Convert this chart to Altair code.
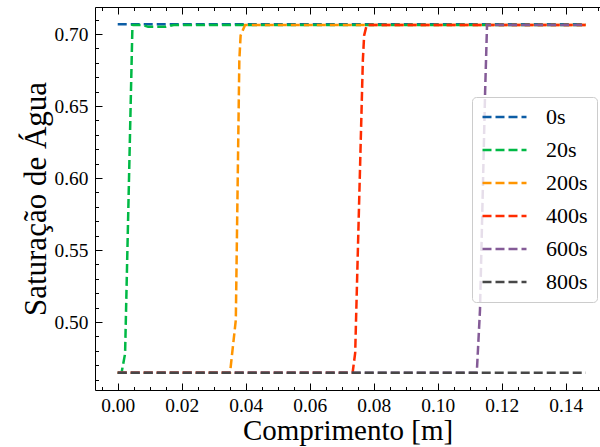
import altair as alt
import pandas as pd

series_names = ["0s", "20s", "200s", "400s", "600s", "800s"]
colors = ["#0C5DA5", "#00B945", "#FF9500", "#FF2C00", "#845B97", "#474747"]

x_0s = [0.0, 0.1463]
y_0s = [0.7067, 0.7067]
x_20s = [0.0, 0.0012, 0.0023, 0.0046, 0.0080, 0.0095, 0.0150, 0.0175, 0.1463]
y_20s = [0.4648, 0.4648, 0.4780, 0.7062, 0.7062, 0.7050, 0.7050, 0.7062, 0.7062]
x_200s = [0.0, 0.0351, 0.0369, 0.0380, 0.0384, 0.0398, 0.1463]
y_200s = [0.4648, 0.4648, 0.5014, 0.6819, 0.6990, 0.7062, 0.7062]
x_400s = [0.0, 0.0734, 0.0742, 0.0766, 0.0770, 0.0778, 0.1463]
y_400s = [0.4648, 0.4648, 0.4785, 0.6819, 0.6990, 0.7062, 0.7062]
x_600s = [0.0, 0.1122, 0.1132, 0.1148, 0.1154, 0.1463]
y_600s = [0.4648, 0.4648, 0.5083, 0.6597, 0.7062, 0.7062]
x_800s = [0.0, 0.1463]
y_800s = [0.4648, 0.4648]

xs = [x_0s, x_20s, x_200s, x_400s, x_600s, x_800s]
ys = [y_0s, y_20s, y_200s, y_400s, y_600s, y_800s]

major_x = [0.0, 0.02, 0.04, 0.06, 0.08, 0.10, 0.12, 0.14]
minor_x = [-0.005, 0.005, 0.01, 0.015, 0.025, 0.03, 0.035, 0.045, 0.05, 0.055,
           0.065, 0.07, 0.075, 0.085, 0.09, 0.095, 0.105, 0.11, 0.115,
           0.125, 0.13, 0.135, 0.145, 0.15]
major_y = [0.50, 0.55, 0.60, 0.65, 0.70]
minor_y = [0.46, 0.47, 0.48, 0.49, 0.51, 0.52, 0.53, 0.54, 0.56, 0.57, 0.58, 0.59,
           0.61, 0.62, 0.63, 0.64, 0.66, 0.67, 0.68, 0.69, 0.71]

rows = []
for name, xv, yv in zip(series_names, xs, ys):
    for i, (a, b) in enumerate(zip(xv, yv)):
        rows.append({"x": a, "y": b, "serie": name, "i": i})
df = pd.DataFrame(rows)

FONT = "Liberation Serif"
xscale = alt.Scale(domain=[-0.0071, 0.1507], nice=False, zero=False)
yscale = alt.Scale(domain=[0.4528, 0.71875], nice=False, zero=False)


def tick_axis(orient, values, size, labels=False, title=None, fmt=".2f",
              tpad=2, tsize=30, lpad=7):
    kw = dict(orient=orient, values=values, tickSize=size, offset=-size,
              domain=False, grid=False, labels=labels, tickColor="black",
              tickWidth=1, labelFlush=False, labelOverlap=False)
    if labels:
        kw.update(format=fmt, labelFont=FONT, labelFontSize=19.4,
                  labelColor="black", labelPadding=lpad)
    if title is not None:
        kw.update(title=title, titleFont=FONT, titleFontSize=tsize,
                  titleFontWeight="normal", titleColor="black", titlePadding=tpad)
    else:
        kw.update(title=None)
    return alt.Axis(**kw)


def frame_axis(orient):
    return alt.Axis(orient=orient, domain=True, domainColor="black", domainWidth=1,
                    ticks=False, labels=False, grid=False, title=None)


lines = alt.Chart(df).mark_line(strokeWidth=2.5, strokeDash=[9, 4]).encode(
    x=alt.X("x:Q", scale=xscale,
            axis=tick_axis("bottom", major_x, 7, labels=True,
                           title="Comprimento [m]", tpad=2.5, tsize=29, lpad=6)),
    y=alt.Y("y:Q", scale=yscale,
            axis=tick_axis("left", major_y, 7, labels=True,
                           title="Saturação de Água", tpad=2, tsize=31)),
    color=alt.Color("serie:N",
                    scale=alt.Scale(domain=series_names, range=colors),
                    legend=alt.Legend(orient="none", legendX=377, legendY=90, title=None,
                                      symbolType="stroke", symbolSize=1936,
                                      symbolStrokeWidth=2.5, symbolDash=[9, 4],
                                      labelFont=FONT, labelFontSize=22, labelColor="black",
                                      labelOffset=18, clipHeight=22, rowPadding=11,
                                      padding=9, fillColor="rgba(255,255,255,0.8)",
                                      strokeColor="#cccccc", cornerRadius=4)),
    detail="serie:N",
    order="i:Q",
)

base = alt.Chart(df).mark_point(opacity=0)

l1 = base.encode(
    x=alt.X("x:Q", scale=xscale, axis=tick_axis("bottom", minor_x, 3.5)),
    y=alt.Y("y:Q", scale=yscale, axis=tick_axis("left", minor_y, 3.5)),
)
l2 = base.encode(
    x=alt.X("x:Q", scale=xscale, axis=tick_axis("top", major_x, 7)),
    y=alt.Y("y:Q", scale=yscale, axis=frame_axis("left")),
)
l3 = base.encode(
    x=alt.X("x:Q", scale=xscale, axis=tick_axis("top", minor_x, 3.5)),
    y=alt.Y("y:Q", scale=yscale, axis=None),
)
l4 = base.encode(
    x=alt.X("x:Q", scale=xscale, axis=frame_axis("bottom")),
    y=alt.Y("y:Q", scale=yscale, axis=None),
)
l5 = base.encode(
    x=alt.X("x:Q", scale=xscale, axis=frame_axis("top")),
    y=alt.Y("y:Q", scale=yscale, axis=None),
)

chart = alt.layer(l1, l2, l3, l4, l5, lines).resolve_axis(
    x="independent", y="independent"
).properties(
    width=505, height=383,
    padding={"left": 95, "top": 7, "right": 0, "bottom": 57},
    autosize=alt.AutoSizeParams(type="none"),
).configure_view(stroke=None).configure(
    background="white", font=FONT
).configure_axis(
    labelFont=FONT, titleFont=FONT
).configure_legend(
    labelFont=FONT
)

chart.save("out.html", embed_options={"renderer": "svg", "actions": False})
